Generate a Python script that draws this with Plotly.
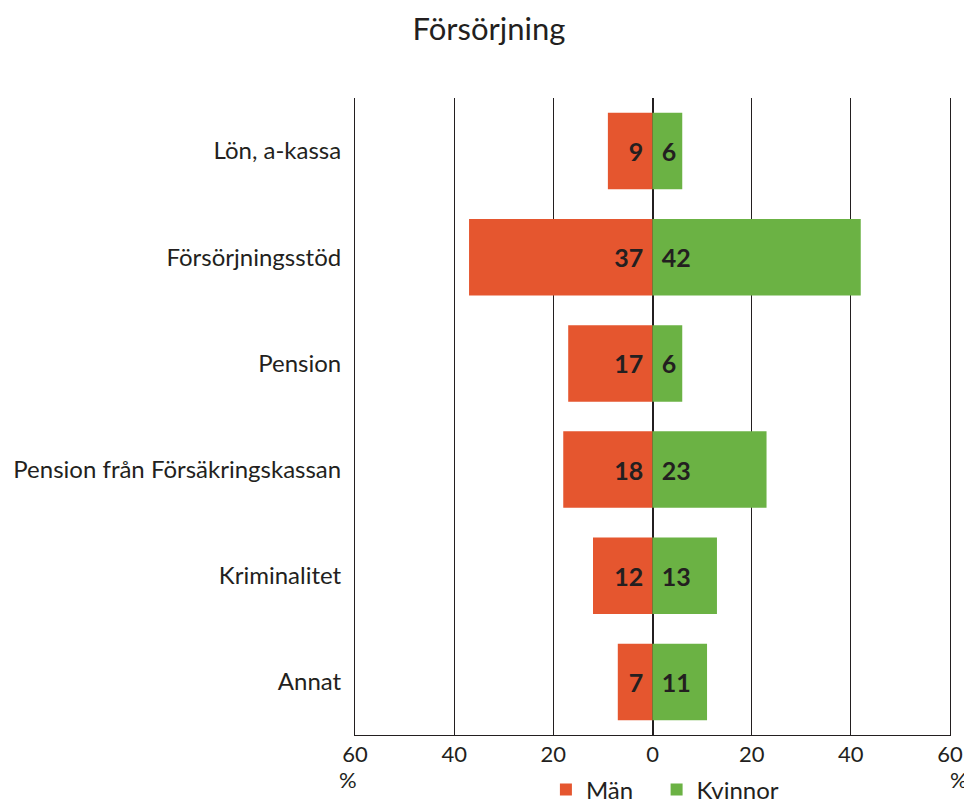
import plotly.graph_objects as go

categories = ["Lön, a-kassa", "Försörjningsstöd", "Pension",
              "Pension från Försäkringskassan", "Kriminalitet", "Annat"]
man = [9, 37, 17, 18, 12, 7]
kvinnor = [6, 42, 6, 23, 13, 11]
tick_vals = [-60, -40, -20, 0, 20, 40, 60]
tick_text = ["60", "40", "20", "0", "20", "40", "60"]

RED = "#E5562F"
GREEN = "#6BB244"
DARK = "#231F20"
FONT = "Lato"

fig = go.Figure()
fig.add_trace(go.Bar(
    y=categories, x=[-v for v in man], orientation="h", name="Män\u00a0\u00a0\u00a0",
    marker=dict(color=RED, line=dict(width=0)), width=0.72,
    text=[f"{v}\u2009\u2009" for v in man], textposition="inside",
    insidetextanchor="start", constraintext="none",
    textfont=dict(family=FONT, size=25, color=DARK, weight="bold"),
    hoverinfo="skip",
))
fig.add_trace(go.Bar(
    y=categories, x=kvinnor, orientation="h", name="Kvinnor",
    marker=dict(color=GREEN, line=dict(width=0)), width=0.72,
    text=[f"\u2009\u2009{v}" for v in kvinnor], textposition="inside",
    insidetextanchor="start", constraintext="none",
    textfont=dict(family=FONT, size=25, color=DARK, weight="bold"),
    hoverinfo="skip",
))

fig.update_layout(
    width=964, height=796,
    margin=dict(l=347, r=22, t=90, b=69),
    paper_bgcolor="white", plot_bgcolor="white",
    barmode="overlay",
    font=dict(family=FONT, size=22, color=DARK),
    title=dict(text="Försörjning", x=0.499, xanchor="center", y=0.974, yanchor="middle",
               yref="container",
               font=dict(family=FONT, size=31, color=DARK)),
    xaxis=dict(range=[-60, 60], tickvals=tick_vals, ticktext=tick_text,
               showgrid=True, gridcolor=DARK, gridwidth=1,
               zeroline=True, zerolinecolor=DARK, zerolinewidth=1.5,
               showline=True, linecolor=DARK, linewidth=1,
               ticks="", tickfont=dict(family=FONT, size=22, color=DARK),
               automargin=False, fixedrange=True),
    yaxis=dict(categoryorder="array", categoryarray=categories,
               range=[5.5, -0.5], showgrid=False, zeroline=False,
               showline=True, mirror=True, linecolor=DARK, linewidth=1,
               ticks="", ticklabelstandoff=8, automargin=False,
               tickfont=dict(family=FONT, size=24, color=DARK), fixedrange=True),
    legend=dict(orientation="h", x=0.558, xanchor="left", xref="container",
                y=0.0176, yanchor="middle", yref="container",
                font=dict(family=FONT, size=24, color=DARK),
                traceorder="normal"),
    showlegend=True,
    annotations=[
        dict(text="%", xref="paper", yref="paper", x=-0.012, y=-0.07,
             xanchor="center", yanchor="middle", showarrow=False,
             font=dict(family=FONT, size=22, color=DARK)),
        dict(text="%", xref="paper", yref="paper", x=1.015, y=-0.07,
             xanchor="center", yanchor="middle", showarrow=False,
             font=dict(family=FONT, size=22, color=DARK)),
    ],
)

fig.write_html("out.html")
